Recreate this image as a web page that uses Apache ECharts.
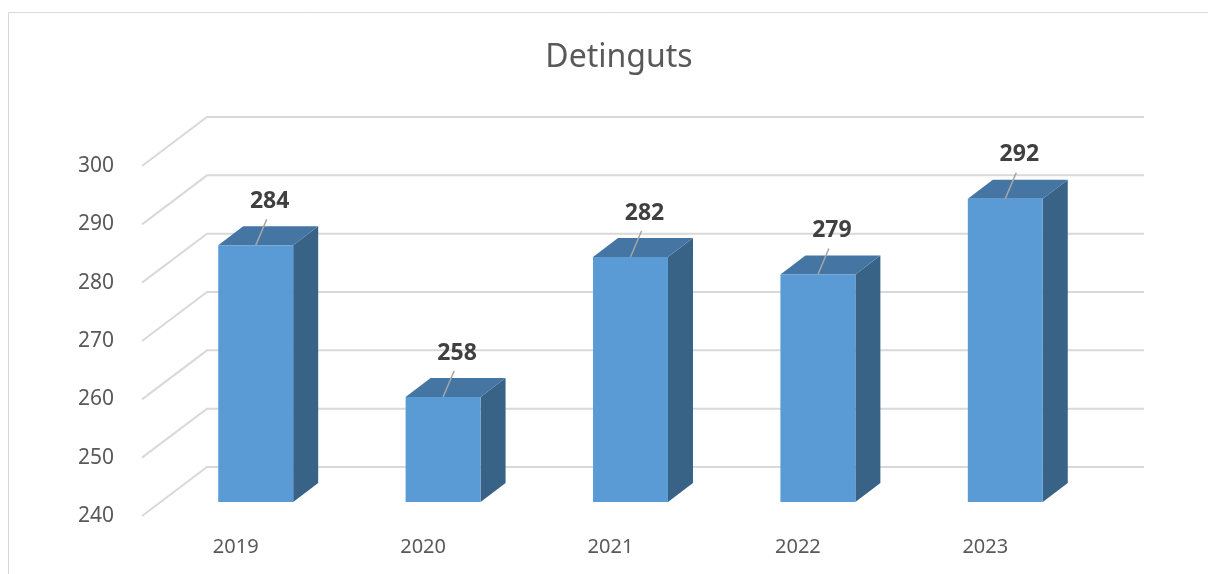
<!DOCTYPE html>
<html>
<head>
<meta charset="utf-8">
<title>Detinguts</title>
<script src="https://cdn.jsdelivr.net/npm/echarts@6/dist/echarts.min.js"></script>
<style>
  html, body { margin: 0; padding: 0; background: #ffffff; }
  #chart { width: 1208px; height: 574px; }
</style>
</head>
<body>
<div id="chart"></div>
<script>
// Chart data
const years = ['2019', '2020', '2021', '2022', '2023'];
const detinguts = [284, 258, 282, 279, 292];
const yTicks = [240, 250, 260, 270, 280, 290, 300];

// Pseudo-3D geometry (pixels)
const WALL_DX = 65, WALL_DY = -49;      // depth of the whole box
const BAR_OX = 20, BAR_OY = -14;        // bar front face offset from the front plane
const BAR_DX = 25, BAR_DY = -19;        // bar depth
const BAR_RATIO = 0.4;                  // bar width as share of band

const chart = echarts.init(document.getElementById('chart'), null, { renderer: 'canvas' });

const FONT = '"Noto Sans", "Open Sans", sans-serif';
const GRID_COLOR = '#d9d9d9';

function renderWalls(params, api) {
  const cs = params.coordSys;
  const v = api.value(0);
  const p = api.coord([0, v]);
  const y = p[1];
  const x0 = cs.x;
  const x1 = cs.x + cs.width;
  return {
    type: 'polyline',
    shape: {
      points: [
        [x0, y],
        [x0 + WALL_DX, y + WALL_DY],
        [x1 + WALL_DX, y + WALL_DY]
      ]
    },
    style: { stroke: GRID_COLOR, lineWidth: 2, fill: null },
    silent: true
  };
}

function renderBars(params, api) {
  const i = api.value(0);
  const v = api.value(1);
  const base = api.coord([i, 240]);
  const top = api.coord([i, v]);
  const band = api.size([1, 0])[0];
  const w = band * BAR_RATIO;
  const cx = base[0] + BAR_OX;
  const xl = cx - w / 2;
  const xr = cx + w / 2;
  const yt = top[1] + BAR_OY;
  const yb = base[1] + BAR_OY;
  return {
    type: 'group',
    children: [
      {
        type: 'polygon',
        shape: { points: [[xr, yt], [xr + BAR_DX, yt + BAR_DY], [xr + BAR_DX, yb + BAR_DY], [xr, yb]] },
        style: { fill: '#396287' }
      },
      {
        type: 'polygon',
        shape: { points: [[xl, yt], [xr, yt], [xr + BAR_DX, yt + BAR_DY], [xl + BAR_DX, yt + BAR_DY]] },
        style: { fill: '#4575a3' }
      },
      {
        type: 'rect',
        shape: { x: xl, y: yt, width: w, height: yb - yt },
        style: { fill: '#5b9bd5' }
      },
      {
        type: 'line',
        shape: { x1: cx, y1: yt, x2: cx + 11, y2: yt - 26 },
        style: { stroke: '#a6a6a6', lineWidth: 1.5 }
      },
      {
        type: 'text',
        x: cx + 14,
        y: yt - 44,
        style: {
          text: String(v),
          fill: '#404040',
          font: 'bold 23px ' + FONT,
          align: 'center',
          verticalAlign: 'middle'
        }
      }
    ]
  };
}

const option = {
  backgroundColor: '#ffffff',
  animation: false,
  title: {
    text: 'Detinguts',
    left: 614,
    top: 37,
    textAlign: 'center',
    textStyle: { fontFamily: FONT, fontSize: 32, fontWeight: 'normal', color: '#595959' }
  },
  graphic: [
    {
      type: 'rect',
      shape: { x: 8.5, y: 12.5, width: 1400, height: 800 },
      style: { fill: null, stroke: '#d9d9d9', lineWidth: 1 },
      silent: true,
      z: -10
    }
  ],
  grid: { left: 142, top: 166, width: 937, height: 350 },
  xAxis: {
    type: 'category',
    data: years,
    axisLine: { show: false },
    axisTick: { show: false },
    splitLine: { show: false },
    axisLabel: {
      color: '#595959',
      fontFamily: FONT,
      fontSize: 20,
      margin: 31,
      verticalAlign: 'middle'
    }
  },
  yAxis: {
    type: 'value',
    min: 240,
    max: 300,
    interval: 10,
    axisLine: { show: false },
    axisTick: { show: false },
    splitLine: { show: false },
    axisLabel: {
      color: '#595959',
      fontFamily: FONT,
      fontSize: 21,
      margin: 28
    }
  },
  series: [
    {
      type: 'custom',
      name: 'walls',
      renderItem: renderWalls,
      data: yTicks.map(v => [v]),
      encode: { y: 0 },
      silent: true,
      z: 1
    },
    {
      type: 'custom',
      name: 'Detinguts',
      renderItem: renderBars,
      data: detinguts.map((v, i) => [i, v]),
      encode: { x: 0, y: 1 },
      z: 2
    }
  ]
};

chart.setOption(option);
</script>
</body>
</html>
